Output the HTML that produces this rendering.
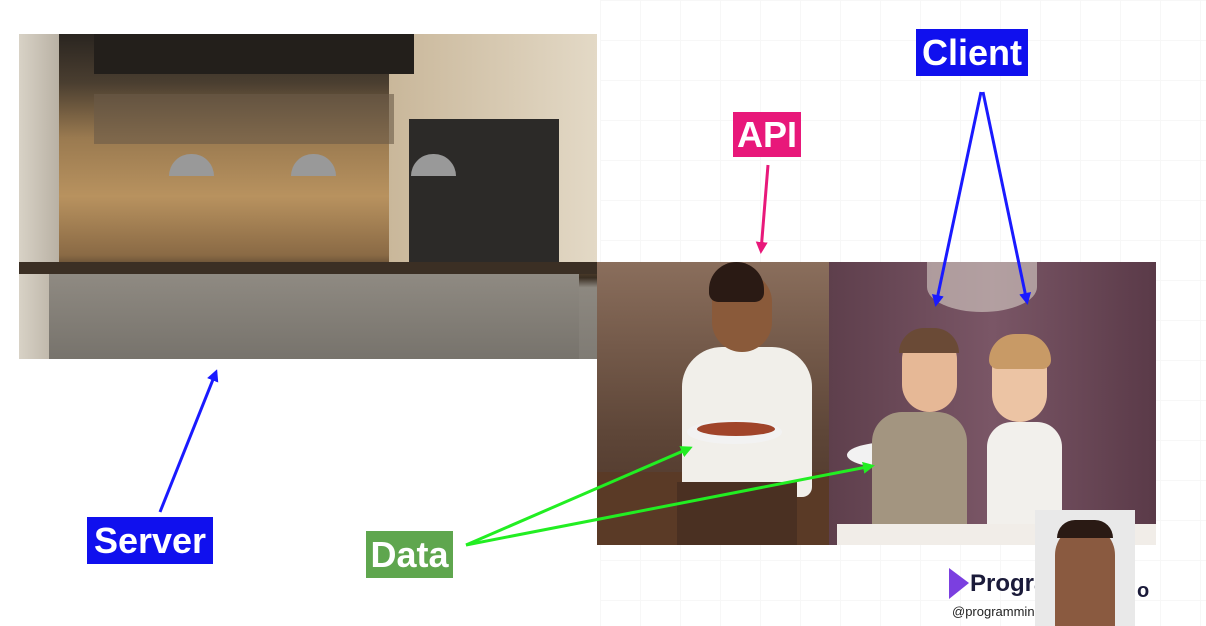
<!DOCTYPE html>
<html><head><meta charset="utf-8"><style>
html,body{margin:0;padding:0;}
body{width:1206px;height:626px;position:relative;overflow:hidden;background:#fff;font-family:"Liberation Sans",sans-serif;}
.grid{position:absolute;left:600px;top:0;width:606px;height:626px;
background-image:linear-gradient(#f3f3f3 1px,transparent 1px),linear-gradient(90deg,#f3f3f3 1px,transparent 1px);background-size:40px 40px;opacity:.6}
.lbl{position:absolute;color:#fff;font-weight:bold;font-size:36px;line-height:1;display:flex;align-items:center;justify-content:center;}
#kitchen{position:absolute;left:19px;top:34px;width:578px;height:325px;overflow:hidden;
background:linear-gradient(180deg,#2a2520 0%,#4a3e30 15%,#9a7a50 32%,#b8925f 50%,#8a6a45 68%,#3a2e22 75%,#8d8880 78%,#7f7b74 100%);}
#rest{position:absolute;left:597px;top:262px;width:559px;height:283px;overflow:hidden;background:#6e4f45;}
</style></head><body>
<div class="grid"></div>

<div id="kitchen">
  <div style="position:absolute;left:0;top:0;width:40px;height:325px;background:linear-gradient(90deg,#d8d2c6,#b9b1a4)"></div>
  <div style="position:absolute;left:370px;top:0;width:208px;height:240px;background:linear-gradient(90deg,#c9b79a,#e3d9c6)"></div>
  <div style="position:absolute;left:390px;top:85px;width:150px;height:145px;background:#2c2a28"></div>
  <div style="position:absolute;left:75px;top:0;width:320px;height:40px;background:#231f1b"></div>
  <div style="position:absolute;left:75px;top:60px;width:300px;height:50px;background:#6a5a48;opacity:.6"></div>
  <div style="position:absolute;left:150px;top:120px;width:45px;height:22px;background:#999;border-radius:22px 22px 0 0"></div>
  <div style="position:absolute;left:272px;top:120px;width:45px;height:22px;background:#999;border-radius:22px 22px 0 0"></div>
  <div style="position:absolute;left:392px;top:120px;width:45px;height:22px;background:#999;border-radius:22px 22px 0 0"></div>
  <div style="position:absolute;left:0;top:228px;width:578px;height:12px;background:#3b2f24"></div>
  <div style="position:absolute;left:30px;top:240px;width:530px;height:85px;background:linear-gradient(180deg,#8f8a82,#77736c)"></div>
</div>

<div id="rest">
  <div style="position:absolute;left:0;top:0;width:232px;height:283px;background:linear-gradient(180deg,#8a6e5c,#5e4638 60%,#4a3226)"></div>
  <div style="position:absolute;left:0;top:210px;width:232px;height:73px;background:#5a3a26"></div>
  <div style="position:absolute;left:232px;top:0;width:327px;height:283px;background:linear-gradient(90deg,#5e3f4c,#7a5666 50%,#5a3a48)"></div>
  <div style="position:absolute;left:330px;top:0;width:110px;height:50px;background:#d8d0c8;opacity:.6;border-radius:0 0 50% 50%"></div>
  <div style="position:absolute;left:85px;top:85px;width:130px;height:150px;background:#f1efea;border-radius:40px 40px 10px 10px"></div>
  <div style="position:absolute;left:115px;top:10px;width:60px;height:80px;background:#8a5a3a;border-radius:30px"></div>
  <div style="position:absolute;left:112px;top:0;width:55px;height:40px;background:#2a1a14;border-radius:30px 30px 10px 10px"></div>
  <div style="position:absolute;left:80px;top:220px;width:120px;height:63px;background:#4a3022"></div>
  <div style="position:absolute;left:90px;top:158px;width:95px;height:24px;background:#f2f2f2;border-radius:50%"></div>
  <div style="position:absolute;left:100px;top:160px;width:78px;height:14px;background:#a0442a;border-radius:50%"></div>
  <div style="position:absolute;left:250px;top:180px;width:90px;height:26px;background:#f2f2f2;border-radius:50%"></div>
  <div style="position:absolute;left:275px;top:150px;width:95px;height:133px;background:#a39580;border-radius:30px 30px 0 0"></div>
  <div style="position:absolute;left:305px;top:70px;width:55px;height:80px;background:#e6b896;border-radius:28px"></div>
  <div style="position:absolute;left:302px;top:66px;width:60px;height:25px;background:#6a4a36;border-radius:25px 25px 0 0"></div>
  <div style="position:absolute;left:390px;top:160px;width:75px;height:123px;background:#f2f0ec;border-radius:25px 25px 0 0"></div>
  <div style="position:absolute;left:395px;top:80px;width:55px;height:80px;background:#ecc4a4;border-radius:28px"></div>
  <div style="position:absolute;left:392px;top:72px;width:62px;height:35px;background:#c89a66;border-radius:30px 30px 10px 10px"></div>
  <div style="position:absolute;left:240px;top:262px;width:319px;height:21px;background:#f1ede8"></div>
</div>

<div style="position:absolute;left:945px;top:565px;width:30px;height:40px;">
  <svg width="30" height="40"><polygon points="4,3 24,18 4,34" fill="#7b3fe0"/></svg>
</div>
<div style="position:absolute;left:970px;top:570px;font-size:24px;font-weight:bold;color:#1b1b3a">Program</div>
<div style="position:absolute;left:1137px;top:580px;font-size:20px;font-weight:bold;color:#1b1b3a">o</div>
<div style="position:absolute;left:952px;top:604px;font-size:13px;color:#222">@programming</div>
<div style="position:absolute;left:1035px;top:510px;width:100px;height:116px;background:#e9e9e9;overflow:hidden">
  <div style="position:absolute;left:20px;top:15px;width:60px;height:101px;background:#8a5a40;border-radius:30px 30px 0 0"></div>
  <div style="position:absolute;left:22px;top:10px;width:56px;height:18px;background:#2a1a14;border-radius:28px 28px 0 0"></div>
</div>

<svg width="1206" height="626" style="position:absolute;left:0;top:0">
  <defs>
    <marker id="b" markerWidth="12" markerHeight="12" refX="9" refY="6" orient="auto" markerUnits="userSpaceOnUse" viewBox="0 0 12 12"><path d="M0,0 L12,6 L0,12z" fill="#1a1aff"/></marker>
    <marker id="p" markerWidth="12" markerHeight="12" refX="9" refY="6" orient="auto" markerUnits="userSpaceOnUse" viewBox="0 0 12 12"><path d="M0,0 L12,6 L0,12z" fill="#e8187a"/></marker>
    <marker id="g" markerWidth="12" markerHeight="12" refX="9" refY="6" orient="auto" markerUnits="userSpaceOnUse" viewBox="0 0 12 12"><path d="M0,0 L12,6 L0,12z" fill="#22ee22"/></marker>
  </defs>
  <g stroke-width="3" fill="none">
  <path d="M981,92 L936,304" stroke="#1a1aff" marker-end="url(#b)"/>
  <path d="M983,92 L1027,302" stroke="#1a1aff" marker-end="url(#b)"/>
  <path d="M160,512 L216,372" stroke="#1a1aff" marker-end="url(#b)"/>
  <path d="M768,165 L761,251" stroke="#e8187a" marker-end="url(#p)"/>
  <path d="M466,545 L690,448" stroke="#22ee22" marker-end="url(#g)"/>
  <path d="M466,545 L872,466" stroke="#22ee22" marker-end="url(#g)"/>
  </g>
</svg>

<div class="lbl" style="left:916px;top:29px;width:112px;height:47px;background:#1010ee">Client</div>
<div class="lbl" style="left:733px;top:112px;width:68px;height:45px;background:#e8187a">API</div>
<div class="lbl" style="left:87px;top:517px;width:126px;height:47px;background:#1010ee">Server</div>
<div class="lbl" style="left:366px;top:531px;width:87px;height:47px;background:#5fa64e">Data</div>
</body></html>
